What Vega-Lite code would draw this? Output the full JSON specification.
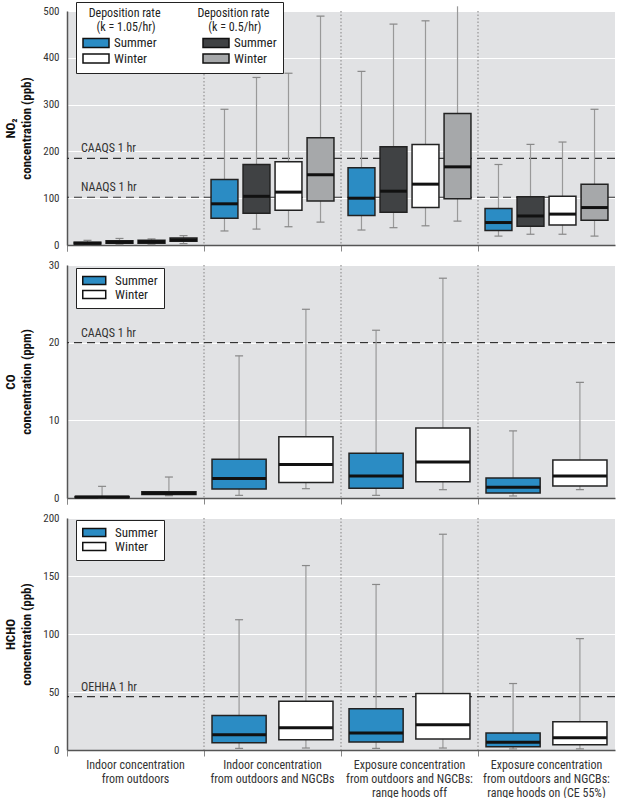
{
  "$schema": "https://vega.github.io/schema/vega-lite/v6.json",
  "padding": {"left": 4, "top": 1, "right": 0, "bottom": 0},
  "spacing": 7,
  "config": {
    "font": "Liberation Sans Narrow, Roboto Condensed, Roboto, sans-serif",
    "view": {"fill": "#e1e2e4", "stroke": null},
    "tick": {"opacity": 1},
    "axis": {"labelColor": "#333", "labelFontSize": 11, "domainColor": "#555", "domainWidth": 1.5, "titleColor": "#111", "titleFontSize": 13, "titleFontWeight": "bold"},
    "axisY": {"ticks": false, "gridColor": "#ffffff", "gridWidth": 1, "labelPadding": 8, "labelOverlap": false, "minExtent": 28, "maxExtent": 28, "titlePadding": 6, "titleLineHeight": 16},
    "axisX": {"grid": false, "ticks": true, "tickColor": "#888", "tickSize": 6, "bandPosition": 0, "tickExtra": true, "title": null, "labelAngle": 0},
    "legend": {"fillColor": "#ffffff", "strokeColor": "#222", "labelFontSize": 13, "labelColor": "#222", "titleFontWeight": "normal", "titleFontSize": 12, "titleColor": "#222", "titleLimit": 0, "symbolStrokeColor": "#111", "symbolStrokeWidth": 1.5, "symbolOpacity": 1, "symbolType": "M-1,-0.7H3V0.7H-1Z"}
  },
  "datasets": {
    "no2": [
      {"group": "Indoor concentration from outdoors", "series": "k1.05 Summer", "low": 1, "q1": 2, "med": 4, "q3": 6, "high": 10},
      {"group": "Indoor concentration from outdoors", "series": "k0.5 Summer", "low": 1, "q1": 4, "med": 6, "q3": 9, "high": 14},
      {"group": "Indoor concentration from outdoors", "series": "k1.05 Winter", "low": 1, "q1": 4, "med": 7, "q3": 10, "high": 13},
      {"group": "Indoor concentration from outdoors", "series": "k0.5 Winter", "low": 3, "q1": 8, "med": 11, "q3": 15, "high": 20},
      {"group": "Indoor concentration from outdoors and NGCBs", "series": "k1.05 Summer", "low": 30, "q1": 57, "med": 88, "q3": 140, "high": 290},
      {"group": "Indoor concentration from outdoors and NGCBs", "series": "k0.5 Summer", "low": 34, "q1": 68, "med": 104, "q3": 172, "high": 358},
      {"group": "Indoor concentration from outdoors and NGCBs", "series": "k1.05 Winter", "low": 39, "q1": 74, "med": 113, "q3": 178, "high": 367},
      {"group": "Indoor concentration from outdoors and NGCBs", "series": "k0.5 Winter", "low": 49, "q1": 94, "med": 150, "q3": 229, "high": 489},
      {"group": "Exposure concentration from outdoors and NGCBs: range hoods off", "series": "k1.05 Summer", "low": 32, "q1": 63, "med": 100, "q3": 165, "high": 371},
      {"group": "Exposure concentration from outdoors and NGCBs: range hoods off", "series": "k0.5 Summer", "low": 37, "q1": 70, "med": 115, "q3": 210, "high": 472},
      {"group": "Exposure concentration from outdoors and NGCBs: range hoods off", "series": "k1.05 Winter", "low": 41, "q1": 80, "med": 130, "q3": 215, "high": 479},
      {"group": "Exposure concentration from outdoors and NGCBs: range hoods off", "series": "k0.5 Winter", "low": 51, "q1": 99, "med": 167, "q3": 281, "high": 510},
      {"group": "Exposure concentration from outdoors and NGCBs: range hoods on (CE 55%)", "series": "k1.05 Summer", "low": 19, "q1": 31, "med": 48, "q3": 78, "high": 172},
      {"group": "Exposure concentration from outdoors and NGCBs: range hoods on (CE 55%)", "series": "k0.5 Summer", "low": 23, "q1": 40, "med": 62, "q3": 103, "high": 215},
      {"group": "Exposure concentration from outdoors and NGCBs: range hoods on (CE 55%)", "series": "k1.05 Winter", "low": 23, "q1": 43, "med": 66, "q3": 104, "high": 220},
      {"group": "Exposure concentration from outdoors and NGCBs: range hoods on (CE 55%)", "series": "k0.5 Winter", "low": 19, "q1": 53, "med": 80, "q3": 130, "high": 290}
    ],
    "co": [
      {"group": "Indoor concentration from outdoors", "series": "Summer", "low": 0.02, "q1": 0.05, "med": 0.12, "q3": 0.2, "high": 1.5},
      {"group": "Indoor concentration from outdoors", "series": "Winter", "low": 0.3, "q1": 0.45, "med": 0.6, "q3": 0.8, "high": 2.7},
      {"group": "Indoor concentration from outdoors and NGCBs", "series": "Summer", "low": 0.34, "q1": 1.16, "med": 2.5, "q3": 5.0, "high": 18.3},
      {"group": "Indoor concentration from outdoors and NGCBs", "series": "Winter", "low": 1.2, "q1": 2.0, "med": 4.3, "q3": 7.9, "high": 24.3},
      {"group": "Exposure concentration from outdoors and NGCBs: range hoods off", "series": "Summer", "low": 0.34, "q1": 1.25, "med": 2.84, "q3": 5.75, "high": 21.6},
      {"group": "Exposure concentration from outdoors and NGCBs: range hoods off", "series": "Winter", "low": 1.07, "q1": 2.1, "med": 4.64, "q3": 9.0, "high": 28.3},
      {"group": "Exposure concentration from outdoors and NGCBs: range hoods on (CE 55%)", "series": "Summer", "low": 0.26, "q1": 0.64, "med": 1.37, "q3": 2.58, "high": 8.64},
      {"group": "Exposure concentration from outdoors and NGCBs: range hoods on (CE 55%)", "series": "Winter", "low": 1.07, "q1": 1.55, "med": 2.84, "q3": 4.9, "high": 14.9}
    ],
    "hcho": [
      {"group": "Indoor concentration from outdoors and NGCBs", "series": "Summer", "low": 1.4, "q1": 6.3, "med": 13.2, "q3": 29.8, "high": 112.3},
      {"group": "Indoor concentration from outdoors and NGCBs", "series": "Winter", "low": 1.7, "q1": 8.9, "med": 19.2, "q3": 42.1, "high": 159},
      {"group": "Exposure concentration from outdoors and NGCBs: range hoods off", "series": "Summer", "low": 1.4, "q1": 6.9, "med": 14.6, "q3": 35.5, "high": 142.7},
      {"group": "Exposure concentration from outdoors and NGCBs: range hoods off", "series": "Winter", "low": 1.7, "q1": 9.5, "med": 21.8, "q3": 48.7, "high": 186},
      {"group": "Exposure concentration from outdoors and NGCBs: range hoods on (CE 55%)", "series": "Summer", "low": 0.9, "q1": 2.9, "med": 6.6, "q3": 14.6, "high": 57.3},
      {"group": "Exposure concentration from outdoors and NGCBs: range hoods on (CE 55%)", "series": "Winter", "low": 0.9, "q1": 4.6, "med": 10.6, "q3": 24.4, "high": 96}
    ],
    "seps": [
      {"group": "Indoor concentration from outdoors and NGCBs"},
      {"group": "Exposure concentration from outdoors and NGCBs: range hoods off"},
      {"group": "Exposure concentration from outdoors and NGCBs: range hoods on (CE 55%)"}
    ]
  },
  "vconcat": [
    {
      "width": 548, "height": 234,
      "layer": [
        {"data": {"name": "seps"}, "mark": {"type": "rule", "color": "#9a9a9a", "strokeDash": [1.5, 2], "strokeWidth": 1.3},
         "encoding": {"x": {"field": "group", "type": "nominal", "bandPosition": 0, "scale": {"domain": ["Indoor concentration from outdoors", "Indoor concentration from outdoors and NGCBs", "Exposure concentration from outdoors and NGCBs: range hoods off", "Exposure concentration from outdoors and NGCBs: range hoods on (CE 55%)"], "paddingInner": 0, "paddingOuter": 0}}}},
        {"data": {"values": [{"label": "CAAQS 1 hr", "value": 185, "group": "Indoor concentration from outdoors"}, {"label": "NAAQS 1 hr", "value": 102, "group": "Indoor concentration from outdoors"}]},
         "layer": [
           {"mark": {"type": "rule", "color": "#333", "strokeDash": [8, 5], "strokeWidth": 1.2}, "encoding": {"y": {"field": "value", "type": "quantitative", "scale": {"domain": [0, 500]}, "axis": {"title": ["NO₂", "concentration (ppb)"], "values": [0, 100, 200, 300, 400, 500]}}}},
           {"mark": {"type": "text", "align": "left", "baseline": "bottom", "dx": 14, "dy": -3, "fontSize": 12, "color": "#333"},
            "encoding": {"x": {"field": "group", "type": "nominal", "bandPosition": 0}, "y": {"field": "value", "type": "quantitative", "scale": {"domain": [0, 500]}, "axis": {"title": ["NO₂", "concentration (ppb)"], "values": [0, 100, 200, 300, 400, 500]}}, "text": {"field": "label"}}}
         ]},
        {"data": {"name": "no2"},
         "encoding": {
           "x": {"field": "group", "type": "nominal", "axis": {"labels": false}},
           "xOffset": {"field": "series", "type": "nominal", "scale": {"domain": ["k1.05 Summer", "k0.5 Summer", "k1.05 Winter", "k0.5 Winter"], "paddingInner": 0.16, "paddingOuter": 0.22}}
         },
         "layer": [
           {"mark": {"type": "rule", "color": "#999", "strokeWidth": 1.2},
            "encoding": {"y": {"field": "low", "type": "quantitative", "scale": {"domain": [0, 500]}, "axis": {"title": ["NO₂", "concentration (ppb)"], "values": [0, 100, 200, 300, 400, 500]}}, "y2": {"field": "high"}}},
           {"mark": {"type": "tick", "color": "#888", "size": 8, "thickness": 1.2}, "encoding": {"y": {"field": "low", "type": "quantitative"}}},
           {"transform": [{"filter": "datum.high <= 500"}], "mark": {"type": "tick", "color": "#888", "size": 8, "thickness": 1.2}, "encoding": {"y": {"field": "high", "type": "quantitative"}}},
           {"mark": {"type": "bar", "stroke": "#222", "strokeWidth": 1.5},
            "encoding": {"y": {"field": "q1", "type": "quantitative"}, "y2": {"field": "q3"},
              "fill": {"field": "series", "type": "nominal", "scale": {"domain": ["k1.05 Summer", "k1.05 Winter", "k0.5 Summer", "k0.5 Winter"], "range": ["#2b8cc4", "#ffffff", "#404244", "#a6a8aa"]},
                "legend": {"title": ["Deposition rate\u2003\u2003\u2003\u2002Deposition rate", "(k = 1.05/hr)\u2003\u2003\u2003\u2003\u2003(k = 0.5/hr)"], "titleAnchor": "middle", "titleAlign": "center", "titleLineHeight": 14, "titlePadding": 1, "orient": "none", "legendX": 9, "legendY": -9, "columns": 2, "columnPadding": 43, "rowPadding": -4, "padding": 6, "labelOffset": 17, "labelExpr": "split(datum.label, ' ')[1]", "symbolSize": 169}}}},
           {"mark": {"type": "tick", "color": "#111", "size": 27, "thickness": 3}, "encoding": {"y": {"field": "med", "type": "quantitative"}}}
         ]}
      ]
    },
    {
      "width": 548, "height": 233,
      "layer": [
        {"data": {"name": "seps"}, "mark": {"type": "rule", "color": "#9a9a9a", "strokeDash": [1.5, 2], "strokeWidth": 1.3},
         "encoding": {"x": {"field": "group", "type": "nominal", "bandPosition": 0, "scale": {"domain": ["Indoor concentration from outdoors", "Indoor concentration from outdoors and NGCBs", "Exposure concentration from outdoors and NGCBs: range hoods off", "Exposure concentration from outdoors and NGCBs: range hoods on (CE 55%)"], "paddingInner": 0, "paddingOuter": 0}}}},
        {"data": {"values": [{"label": "CAAQS 1 hr", "value": 20, "group": "Indoor concentration from outdoors"}]},
         "layer": [
           {"mark": {"type": "rule", "color": "#333", "strokeDash": [8, 5], "strokeWidth": 1.2}, "encoding": {"y": {"field": "value", "type": "quantitative", "scale": {"domain": [0, 30]}, "axis": {"title": ["CO", "concentration (ppm)"], "values": [0, 5, 10, 15, 20, 25, 30]}}}},
           {"mark": {"type": "text", "align": "left", "baseline": "bottom", "dx": 14, "dy": -3, "fontSize": 12, "color": "#333"},
            "encoding": {"x": {"field": "group", "type": "nominal", "bandPosition": 0}, "y": {"field": "value", "type": "quantitative", "scale": {"domain": [0, 30]}, "axis": {"title": ["CO", "concentration (ppm)"], "values": [0, 5, 10, 15, 20, 25, 30]}}, "text": {"field": "label"}}}
         ]},
        {"data": {"name": "co"},
         "encoding": {
           "x": {"field": "group", "type": "nominal", "axis": {"labels": false}},
           "xOffset": {"field": "series", "type": "nominal", "scale": {"domain": ["Summer", "Winter"], "paddingInner": 0.19, "paddingOuter": 0.12}}
         },
         "layer": [
           {"mark": {"type": "rule", "color": "#999", "strokeWidth": 1.2},
            "encoding": {"y": {"field": "low", "type": "quantitative", "scale": {"domain": [0, 30]}, "axis": {"title": ["CO", "concentration (ppm)"], "values": [0, 5, 10, 15, 20, 25, 30]}}, "y2": {"field": "high"}}},
           {"mark": {"type": "tick", "color": "#888", "size": 8, "thickness": 1.2}, "encoding": {"y": {"field": "low", "type": "quantitative"}}},
           {"mark": {"type": "tick", "color": "#888", "size": 8, "thickness": 1.2}, "encoding": {"y": {"field": "high", "type": "quantitative"}}},
           {"mark": {"type": "bar", "stroke": "#222", "strokeWidth": 1.5},
            "encoding": {"y": {"field": "q1", "type": "quantitative"}, "y2": {"field": "q3"},
              "fill": {"field": "series", "type": "nominal", "scale": {"domain": ["Summer", "Winter"], "range": ["#2b8cc4", "#ffffff"]},
                "legend": {"title": null, "orient": "none", "legendX": 9, "legendY": 3, "padding": 6, "rowPadding": -1, "labelOffset": 20, "symbolSize": 132}}}},
           {"mark": {"type": "tick", "color": "#111", "size": 54, "thickness": 3}, "encoding": {"y": {"field": "med", "type": "quantitative"}}}
         ]}
      ]
    },
    {
      "width": 548, "height": 232,
      "layer": [
        {"data": {"name": "seps"}, "mark": {"type": "rule", "color": "#9a9a9a", "strokeDash": [1.5, 2], "strokeWidth": 1.3},
         "encoding": {"x": {"field": "group", "type": "nominal", "bandPosition": 0, "scale": {"domain": ["Indoor concentration from outdoors", "Indoor concentration from outdoors and NGCBs", "Exposure concentration from outdoors and NGCBs: range hoods off", "Exposure concentration from outdoors and NGCBs: range hoods on (CE 55%)"], "paddingInner": 0, "paddingOuter": 0}}}},
        {"data": {"values": [{"label": "OEHHA 1 hr", "value": 46, "group": "Indoor concentration from outdoors"}]},
         "layer": [
           {"mark": {"type": "rule", "color": "#333", "strokeDash": [8, 5], "strokeWidth": 1.2}, "encoding": {"y": {"field": "value", "type": "quantitative", "scale": {"domain": [0, 200]}, "axis": {"title": ["HCHO", "concentration (ppb)"], "values": [0, 50, 100, 150, 200]}}}},
           {"mark": {"type": "text", "align": "left", "baseline": "bottom", "dx": 14, "dy": -3, "fontSize": 12, "color": "#333"},
            "encoding": {"x": {"field": "group", "type": "nominal", "bandPosition": 0}, "y": {"field": "value", "type": "quantitative", "scale": {"domain": [0, 200]}, "axis": {"title": ["HCHO", "concentration (ppb)"], "values": [0, 50, 100, 150, 200]}}, "text": {"field": "label"}}}
         ]},
        {"data": {"name": "hcho"},
         "encoding": {
           "x": {"field": "group", "type": "nominal", "axis": {"labels": true, "tickExtra": false, "labelFontSize": 12, "labelLineHeight": 14, "labelPadding": 3, "labelAlign": "center", "labelBaseline": "top", "labelColor": "#333", "labelLimit": 0,
             "labelExpr": "indexof(datum.label, 'CE 55') >= 0 ? ['Exposure concentration', 'from outdoors and NGCBs:', 'range hoods on (CE 55%)'] : indexof(datum.label, 'hoods off') >= 0 ? ['Exposure concentration', 'from outdoors and NGCBs:', 'range hoods off'] : indexof(datum.label, 'NGCBs') >= 0 ? ['Indoor concentration', 'from outdoors and NGCBs'] : ['Indoor concentration', 'from outdoors']"}},
           "xOffset": {"field": "series", "type": "nominal", "scale": {"domain": ["Summer", "Winter"], "paddingInner": 0.19, "paddingOuter": 0.12}}
         },
         "layer": [
           {"mark": {"type": "rule", "color": "#999", "strokeWidth": 1.2},
            "encoding": {"y": {"field": "low", "type": "quantitative", "scale": {"domain": [0, 200]}, "axis": {"title": ["HCHO", "concentration (ppb)"], "values": [0, 50, 100, 150, 200]}}, "y2": {"field": "high"}}},
           {"mark": {"type": "tick", "color": "#888", "size": 8, "thickness": 1.2}, "encoding": {"y": {"field": "low", "type": "quantitative"}}},
           {"mark": {"type": "tick", "color": "#888", "size": 8, "thickness": 1.2}, "encoding": {"y": {"field": "high", "type": "quantitative"}}},
           {"mark": {"type": "bar", "stroke": "#222", "strokeWidth": 1.5},
            "encoding": {"y": {"field": "q1", "type": "quantitative"}, "y2": {"field": "q3"},
              "fill": {"field": "series", "type": "nominal", "scale": {"domain": ["Summer", "Winter"], "range": ["#2b8cc4", "#ffffff"]},
                "legend": {"title": null, "orient": "none", "legendX": 9, "legendY": 2, "padding": 6, "rowPadding": -1, "labelOffset": 20, "symbolSize": 132}}}},
           {"mark": {"type": "tick", "color": "#111", "size": 54, "thickness": 3}, "encoding": {"y": {"field": "med", "type": "quantitative"}}}
         ]}
      ]
    }
  ],
  "resolve": {"scale": {"y": "independent", "fill": "independent", "xOffset": "independent", "x": "independent"}, "legend": {"fill": "independent"}}
}
